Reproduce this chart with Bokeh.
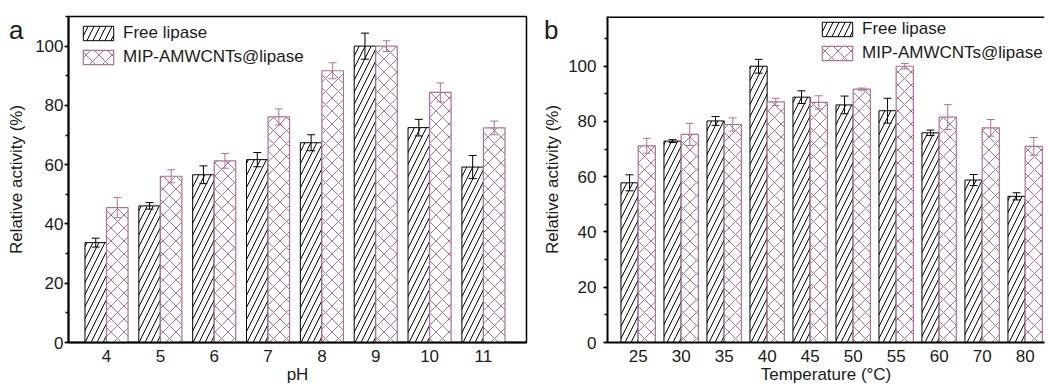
import numpy as np
from bokeh.plotting import figure
from bokeh.models import (ColumnDataSource, Whisker, TeeHead, FixedTicker, Div,
                          SingleIntervalTicker, Legend, LegendItem, Span, Range1d)
from bokeh.layouts import row
from bokeh.embed import file_html
from bokeh.resources import INLINE

# ---- data ----
ph_labels = ["4", "5", "6", "7", "8", "9", "10", "11"]
ph_free = [33.7, 46.1, 56.6, 61.7, 67.4, 100.0, 72.5, 59.2]
ph_free_err = [1.5, 1.1, 3.0, 2.4, 2.7, 4.4, 2.8, 3.9]
ph_mip = [45.5, 56.1, 61.3, 76.1, 91.7, 100.0, 84.4, 72.4]
ph_mip_err = [3.4, 2.2, 2.5, 2.7, 2.7, 1.8, 3.2, 2.3]

t_labels = ["25", "30", "35", "40", "45", "50", "55", "60", "70", "80"]
t_free = [57.8, 72.9, 80.2, 100.0, 88.8, 86.0, 83.9, 75.9, 58.8, 52.9]
t_free_err = [2.9, 0.5, 1.6, 2.5, 2.3, 3.2, 4.5, 1.0, 2.0, 1.3]
t_mip = [71.2, 75.3, 78.9, 87.1, 86.9, 91.7, 100.0, 81.6, 77.7, 71.0]
t_mip_err = [2.7, 4.0, 2.4, 1.3, 2.4, 0.4, 1.0, 4.5, 3.0, 3.2]

FONT = "Liberation Sans"
PURPLE = "#b06f98"
FS = "17px"
H = 386
FRAME_H = 326


def make_panel(labels, free, free_err, mip, mip_err, ymax, xstart, xend, xlabel,
               width, mb_left, mb_right, tick_standoff, label_standoff,
               leg_x, leg_top, outline):
    n = len(labels)
    idx = np.arange(n)
    src = ColumnDataSource(dict(
        xf=idx - 0.2, xm=idx + 0.2,
        free=free, mip=mip,
        fu=np.array(free) + np.array(free_err), fl=np.array(free) - np.array(free_err),
        mu=np.array(mip) + np.array(mip_err), ml=np.array(mip) - np.array(mip_err),
    ))
    p = figure(width=width, height=H, output_backend="svg", toolbar_location=None,
               x_range=Range1d(xstart, xend), y_range=Range1d(0, ymax),
               min_border_left=mb_left, min_border_right=mb_right,
               min_border_top=16, min_border_bottom=H - 16 - FRAME_H)
    p.background_fill_color = "white"
    p.border_fill_color = None
    p.grid.visible = False
    if outline:
        p.outline_line_color = "black"
        p.outline_line_width = 1.5
    else:
        p.outline_line_color = None
        p.add_layout(Span(location=ymax, dimension="width", line_color="black", line_width=3))

    rf = p.vbar(x="xf", top="free", width=0.4, source=src, fill_color="white",
                line_color="black", line_width=1, hatch_pattern="/", hatch_color="black",
                hatch_scale=12, hatch_weight=1)
    rm = p.vbar(x="xm", top="mip", width=0.4, source=src, fill_color="white",
                line_color=PURPLE, line_width=1.2, hatch_pattern="x", hatch_color=PURPLE,
                hatch_scale=13, hatch_weight=1)

    wf = Whisker(base="xf", upper="fu", lower="fl", source=src, line_color="black",
                 line_width=1, level="annotation",
                 upper_head=TeeHead(size=8, line_color="black", line_width=1),
                 lower_head=TeeHead(size=8, line_color="black", line_width=1))
    wm = Whisker(base="xm", upper="mu", lower="ml", source=src, line_color=PURPLE,
                 line_width=1, level="annotation",
                 upper_head=TeeHead(size=8, line_color=PURPLE, line_width=1),
                 lower_head=TeeHead(size=8, line_color=PURPLE, line_width=1))
    p.add_layout(wf)
    p.add_layout(wm)

    # axes
    xa = p.xaxis[0]
    xa.ticker = FixedTicker(ticks=list(idx))
    xa.major_label_overrides = {int(i): l for i, l in zip(idx, labels)}
    xa.major_tick_line_color = None
    xa.minor_tick_line_color = None
    xa.major_tick_out = 0
    xa.major_tick_in = 0
    xa.minor_tick_out = 0
    xa.minor_tick_in = 0
    xa.axis_line_width = 2
    xa.axis_label = xlabel
    xa.major_label_standoff = 7
    xa.axis_label_standoff = 0

    ya = p.yaxis[0]
    ya.ticker = SingleIntervalTicker(interval=20, num_minor_ticks=2)
    ya.axis_line_width = 2
    ya.major_tick_in = 0
    ya.major_tick_out = 4
    ya.minor_tick_in = 0
    ya.minor_tick_out = 3
    ya.major_tick_line_width = 1.5
    ya.minor_tick_line_width = 1.5
    ya.axis_label = "Relative activity (%)"
    ya.major_label_standoff = tick_standoff
    ya.axis_label_standoff = label_standoff

    for ax in (xa, ya):
        ax.major_label_text_font = FONT
        ax.major_label_text_font_size = FS
        ax.major_label_text_color = "#1a1a1a"
        ax.axis_label_text_font = FONT
        ax.axis_label_text_font_size = FS
        ax.axis_label_text_font_style = "normal"
        ax.axis_label_text_color = "#1a1a1a"

    legend = Legend(items=[LegendItem(label="Free lipase", renderers=[rf]),
                           LegendItem(label="MIP-AMWCNTs@lipase", renderers=[rm])],
                    location=(leg_x, FRAME_H - leg_top - 41),
                    glyph_width=38, glyph_height=18, label_height=18,
                    label_standoff=6, spacing=4, padding=0, margin=0,
                    border_line_color=None, background_fill_alpha=0,
                    label_text_font=FONT, label_text_font_size=FS,
                    label_text_color="#1a1a1a")
    p.add_layout(legend)
    return p


pa = make_panel(ph_labels, ph_free, ph_free_err, ph_mip, ph_mip_err, 110, -0.706, 7.8, "pH",
                540, 68, 14, 1, 6, 11, 9.5, True)
pb = make_panel(t_labels, t_free, t_free_err, t_mip, t_mip_err, 118, -0.713, 9.45,
                "Temperature (°C)", 506, 62, 2, 7, 3, 211, 6, False)

letter_style = {"font-family": FONT, "font-size": "26px", "color": "#1a1a1a",
                "line-height": "1"}
div_a = Div(text="a", width=20, height=30, margin=(17, -29, 0, 9), styles=letter_style)
div_b = Div(text="b", width=20, height=30, margin=(17, -24, 0, 4), styles=letter_style)

layout = row(div_a, pa, div_b, pb)
open("out.html", "w").write(file_html(layout, INLINE))
